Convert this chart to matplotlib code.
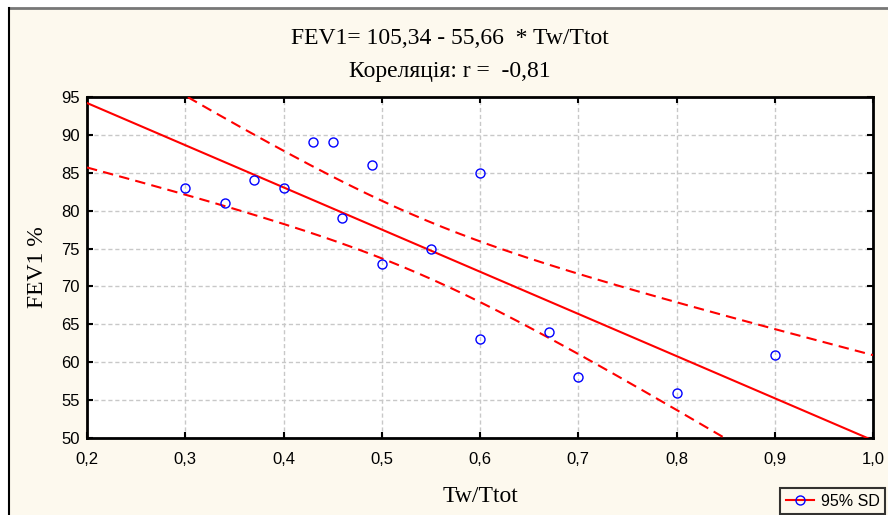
import numpy as np
import matplotlib
matplotlib.use("Agg")
import matplotlib.pyplot as plt
from matplotlib.lines import Line2D
from matplotlib.patches import Rectangle

# data
tw_ttot = [0.30, 0.34, 0.37, 0.40, 0.43, 0.45, 0.46, 0.49, 0.50, 0.55,
           0.60, 0.60, 0.67, 0.70, 0.80, 0.90]
fev1 = [83, 81, 84, 83, 89, 89, 79, 86, 73, 75, 85, 63, 64, 58, 56, 61]
intercept = 105.34
slope = -55.66
x_ticks = [0.2, 0.3, 0.4, 0.5, 0.6, 0.7, 0.8, 0.9, 1.0]
x_labels = ["0,2", "0,3", "0,4", "0,5", "0,6", "0,7", "0,8", "0,9", "1,0"]
y_ticks = [50, 55, 60, 65, 70, 75, 80, 85, 90, 95]

serif = ["Liberation Serif", "DejaVu Serif"]
sans = ["Liberation Sans", "DejaVu Sans"]
cream = "#fdf9ee"

W, H = 888, 515
fig = plt.figure(figsize=(W / 100, H / 100), dpi=100, facecolor="white")
fig.add_artist(Rectangle((9 / W, 0), 1, 1 - 8 / H, transform=fig.transFigure,
                         facecolor=cream, edgecolor="none", zorder=-10))
fig.add_artist(Line2D([9 / W, 1], [1 - 8 / H, 1 - 8 / H], transform=fig.transFigure,
                      color="#777777", lw=2))
fig.add_artist(Line2D([9 / W, 9 / W], [0, 1 - 8 / H], transform=fig.transFigure,
                      color="black", lw=1.5))

ax = fig.add_axes([87 / W, 1 - 438 / H, (873 - 87) / W, (438 - 97) / H])
ax.set_facecolor("white")

x = np.array(tw_ttot)
y = np.array(fev1)
xs = np.linspace(0.2, 1.0, 200)
fit = intercept + slope * xs

# 95% confidence band of the fitted line
n = len(x)
resid = y - (intercept + slope * x)
s = np.sqrt(np.sum(resid ** 2) / (n - 2))
sxx = np.sum((x - x.mean()) ** 2)
t = 2.145
hw = t * s * np.sqrt(1 / n + (xs - x.mean()) ** 2 / sxx)

ax.plot(xs, fit, color="red", lw=1.5, zorder=3)
ax.plot(xs, fit + hw, color="red", lw=1.5, ls=(0, (5, 3)), zorder=3)
ax.plot(xs, fit - hw, color="red", lw=1.5, ls=(0, (5, 3)), zorder=3)
ax.plot(x, y, "o", mfc="none", mec="blue", ms=6.5, mew=1, zorder=4)

ax.set_xlim(0.2, 1.0)
ax.set_ylim(50, 95)
ax.set_xticks(x_ticks)
ax.set_xticklabels(x_labels, fontfamily=sans, fontsize=12)
ax.set_yticks(y_ticks)
ax.set_yticklabels([str(v) for v in y_ticks], fontfamily=sans, fontsize=12)
ax.tick_params(direction="in", length=4, width=1.5, top=True, right=True)
ax.tick_params(axis="x", pad=10)
ax.tick_params(axis="y", pad=5)
ax.grid(True, color="#c8c8c8", ls=(0, (3, 2)), lw=1)
for sp in ax.spines.values():
    sp.set_linewidth(2)

ax.set_xlabel("Tw/Ttot", fontfamily=serif, fontsize=17, labelpad=14)
ax.set_ylabel("FEV1 %", fontfamily=serif, fontsize=17, labelpad=10)

fig.text(0.507, 1 - 38 / H, "FEV1= 105,34 - 55,66  * Tw/Ttot", ha="center", va="center",
         fontfamily=serif, fontsize=17)
fig.text(0.507, 1 - 72 / H, "Кореляція: r =  -0,81", ha="center", va="center",
         fontfamily=serif, fontsize=17)

handle = Line2D([], [], color="red", lw=1.5, marker="o", mfc="none", mec="blue", ms=6.5)
leg = fig.legend([handle], ["95% SD"], loc="upper left",
                 bbox_to_anchor=(780 / W, 1 - 488 / H), frameon=True, fancybox=False,
                 prop={"family": sans, "size": 11.5}, borderpad=0.35, handlelength=1.8,
                 handletextpad=0.4, borderaxespad=0)
leg.get_frame().set_edgecolor("black")
leg.get_frame().set_facecolor(cream)
leg.get_frame().set_linewidth(1.5)

fig.savefig("out.png", dpi=100, facecolor=fig.get_facecolor())
